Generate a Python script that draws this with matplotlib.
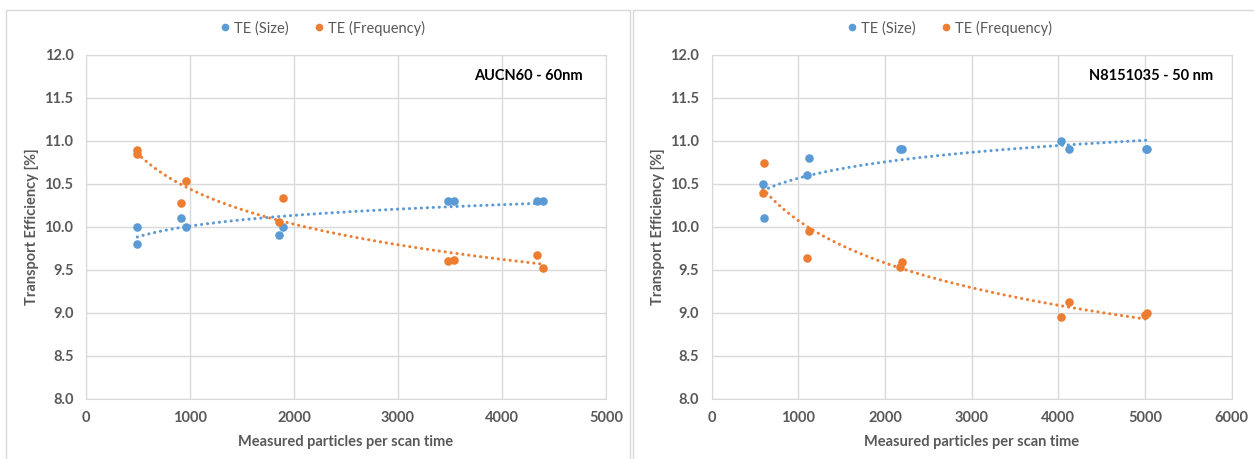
import numpy as np
import matplotlib.pyplot as plt
from matplotlib.lines import Line2D
from matplotlib.patches import Rectangle

# AUCN60 - 60nm
left_x_size = [493, 493, 910, 958, 1857, 1896, 3480, 3534, 4340, 4396]
left_te_size = [10.00, 9.80, 10.10, 10.00, 9.90, 10.00, 10.30, 10.30, 10.30, 10.30]
left_x_freq = [493, 493, 910, 958, 1857, 1896, 3480, 3534, 4340, 4396]
left_te_freq = [10.89, 10.85, 10.28, 10.53, 10.05, 10.33, 9.60, 9.61, 9.67, 9.52]

# N8151035 - 50 nm
right_x_size = [591, 607, 1103, 1127, 2177, 2197, 4029, 4121, 5013, 5020]
right_te_size = [10.50, 10.10, 10.60, 10.80, 10.90, 10.90, 11.00, 10.90, 10.90, 10.90]
right_x_freq = [607, 591, 1127, 1103, 2193, 2173, 4121, 4029, 5020, 5006]
right_te_freq = [10.74, 10.39, 9.95, 9.64, 9.59, 9.53, 9.13, 8.95, 9.00, 8.97]

BLUE = '#5B9BD5'
ORANGE = '#ED7D31'
GRID = '#d9d9d9'
TXT = '#595959'

plt.rcParams['font.family'] = ['Lato', 'DejaVu Sans']

W, H = 1254, 459
fig = plt.figure(figsize=(W / 100, H / 100), dpi=100)

# panel frames
for x0, x1 in [(6, 630), (633, 1262)]:
    fig.patches.append(Rectangle((x0 / W, -0.1), (x1 - x0) / W, 1.1 - 10 / H,
                                 transform=fig.transFigure, fill=False,
                                 edgecolor=GRID, lw=1.0))


def log_trend(ax, x, y, color):
    x = np.asarray(x, float)
    a, b = np.polyfit(np.log(x), y, 1)
    xs = np.linspace(x.min(), x.max(), 200)
    ax.plot(xs, a * np.log(xs) + b, color=color, lw=2.2,
            linestyle=(0, (0.05, 1.9)), dash_capstyle='round', zorder=2)


def draw(ax_rect, xs, ys, xf, yf, xmax, label, label_x, panel_cx):
    ax = fig.add_axes(ax_rect)
    ax.scatter(xs, ys, s=38, color=BLUE, zorder=3, linewidths=0)
    ax.scatter(xf, yf, s=38, color=ORANGE, zorder=3, linewidths=0)
    log_trend(ax, xs, ys, BLUE)
    log_trend(ax, xf, yf, ORANGE)

    xt = np.arange(0, xmax + 1, 1000)
    yt = np.arange(8.0, 12.01, 0.5)
    ax.set_xlim(0, xmax)
    ax.set_ylim(8.0, 12.0)
    ax.set_xticks(xt)
    ax.set_xticklabels([f'{v:d}' for v in xt], fontweight='bold')
    ax.set_yticks(yt)
    ax.set_yticklabels([f'{v:.1f}' for v in yt], fontweight='bold')
    ax.grid(True, color=GRID, lw=1.0)
    ax.set_axisbelow(True)
    for sp in ax.spines.values():
        sp.set_color(GRID)
    ax.tick_params(length=0, labelsize=10.5, labelcolor=TXT, pad=9)
    ax.set_xlabel('Measured particles per scan time', fontsize=10.5,
                  color=TXT, fontweight='bold', labelpad=7)
    ax.set_ylabel('Transport Efficiency [%]', fontsize=10.5,
                  color=TXT, fontweight='bold', labelpad=4)

    fig.text(label_x / W, 1 - 76 / H, label, ha='right', va='center',
             fontsize=10.5, fontweight='bold', color='black')

    handles = [Line2D([], [], marker='o', ls='', color=BLUE, markersize=4.5),
               Line2D([], [], marker='o', ls='', color=ORANGE, markersize=4.5)]
    fig.legend(handles, ['TE (Size)', 'TE (Frequency)'], loc='center',
               bbox_to_anchor=(panel_cx / W, 1 - 28 / H), ncol=2, frameon=False,
               fontsize=10.5, labelcolor=TXT, handletextpad=0.1,
               columnspacing=1.6, handlelength=1.0)
    return ax


draw([86 / W, 1 - 398.7 / H, 520 / W, 344 / H],
     left_x_size, left_te_size, left_x_freq, left_te_freq,
     5000, 'AUCN60 - 60nm', 583, 321)
draw([711.7 / W, 1 - 398.7 / H, 519.8 / W, 344 / H],
     right_x_size, right_te_size, right_x_freq, right_te_freq,
     6000, 'N8151035 - 50 nm', 1213, 948)

fig.savefig('out.png', dpi=100)
